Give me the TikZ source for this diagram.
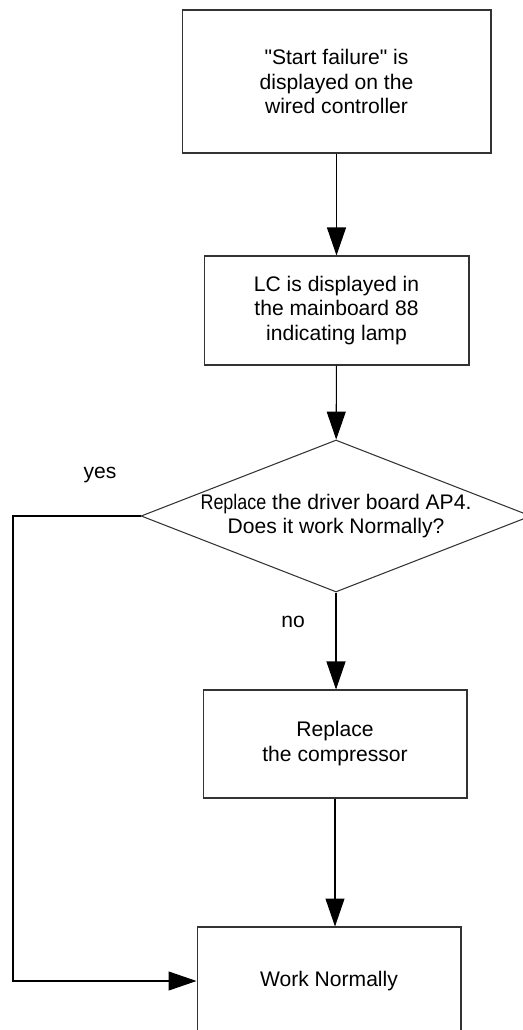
\documentclass[tikz,border=0pt]{standalone}
\usepackage{fontspec}
\setmainfont{Liberation Sans}
\newfontfamily\plainarial{Liberation Sans}
\newcommand{\straightq}{{\plainarial\symbol{34}}}
\usepackage{graphicx}
\usepackage{tikz}
\usetikzlibrary{arrows.meta, positioning, shapes.geometric}

\begin{document}
\begin{tikzpicture}[
    x=0.02cm, y=-0.02cm,
    stepbox/.style={draw=black!80, line width=0.6pt, align=center, font=\fontsize{12}{14.2}\selectfont},
    decision/.style={draw=black!80, line width=0.6pt, diamond, inner sep=0pt, minimum width=7.8cm, minimum height=3.04cm},
    >={Triangle[length=0.56cm, width=0.38cm]}
]
  \useasboundingbox (0,0) rectangle (523,1030);

  \node[stepbox, minimum width=6.18cm, minimum height=2.86cm] (start) at (336.5, 81.5)
    {\straightq Start failure\straightq{} is\\displayed on the\\wired controller};
  \node[stepbox, minimum width=5.3cm, minimum height=2.18cm] (lamp) at (336.5, 310.5)
    {LC is displayed in\\the mainboard 88\\indicating lamp};
  \node[decision] (dec) at (336, 516) {};
  \node[align=center, font=\fontsize{12}{13.6}\selectfont] (dectext) at (336, 516)
    {\scalebox{0.85}[1]{Replace} the driver board AP4.\\Does it work Normally?};
  \node[stepbox, minimum width=5.28cm, minimum height=2.16cm] (comp) at (335, 744)
    {Replace\\the compressor};
  \node[stepbox, minimum width=5.28cm, minimum height=2.16cm] (ok) at (329, 981)
    {Work Normally};
  \coordinate (back) at (13, 516);

  \draw[->, line width=0.6pt] (start) -- (lamp);
  \draw[->, line width=0.6pt] (lamp) -- (dec);
  \draw[->, line width=0.6pt] (dec.south) -- (dec.south |- comp.north);
  \draw[->, line width=0.6pt] (comp.south) -- (comp.south |- ok.north);
  \draw[->, line width=0.6pt] (dec.west) -- (back) |- (ok.west);

  % branch labels
  \node[font=\fontsize{12}{14.2}\selectfont] (yes) at (100, 475) {yes};
  \node[font=\fontsize{12}{14.2}\selectfont] (no) at (293, 622) {no};
\end{tikzpicture}
\end{document}
